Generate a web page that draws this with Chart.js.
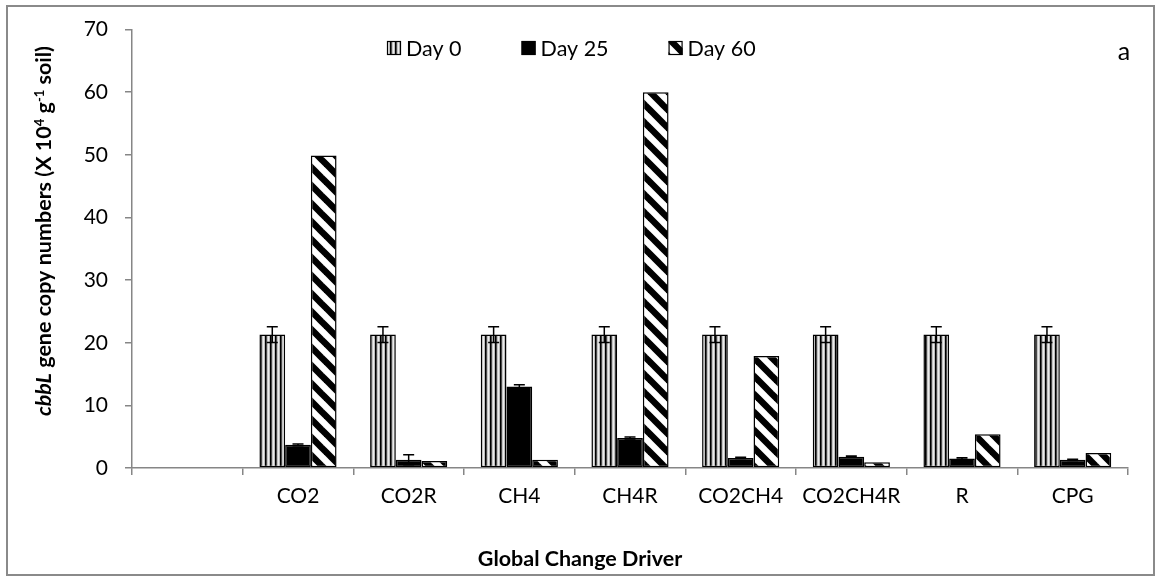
<!DOCTYPE html>
<html>
<head>
<meta charset="utf-8">
<script src="https://cdn.jsdelivr.net/npm/chart.js@4.4.1/dist/chart.umd.min.js"></script>
<style>
  html, body { margin: 0; padding: 0; background: #fff; }
  #wrap { width: 1161px; height: 581px; position: relative; }
</style>
</head>
<body>
<div id="wrap"><canvas id="c" width="1161" height="581"></canvas></div>
<script>
// Treatments (the first slot is left empty on purpose)
const categories = ['', 'CO2', 'CO2R', 'CH4', 'CH4R', 'CO2CH4', 'CO2CH4R', 'R', 'CPG'];
const seriesNames = ['Day 0', 'Day 25', 'Day 60'];

// cbbL copy numbers (x 10^4 per g soil)
const day0     = [null, 21.3, 21.3, 21.3, 21.3, 21.3, 21.3, 21.3, 21.3];
const day0Err  = [null, 1.25, 1.25, 1.25, 1.25, 1.25, 1.25, 1.25, 1.25];
const day25    = [null, 3.7, 1.3, 13.0, 4.8, 1.6, 1.8, 1.5, 1.3];
const day25Err = [null, 0.15, 0.8, 0.3, 0.15, 0.1, 0.1, 0.15, 0.1];
const day60    = [null, 49.9, 1.1, 1.3, 60.0, 17.9, 0.9, 5.4, 2.4];

const yTicks = [0, 10, 20, 30, 40, 50, 60, 70];

const FONT = 'Lato, "Open Sans", sans-serif';
const AXIS_GREY = '#868686';

// Fill patterns
function verticalStripes() {
  const c = document.createElement('canvas');
  c.width = 5; c.height = 5;
  const g = c.getContext('2d');
  const cols = ['#000000', '#4a4a4a', '#c4c4c4', '#ececec', '#bdbdbd'];
  cols.forEach((col, i) => { g.fillStyle = col; g.fillRect(i, 0, 1, 5); });
  return g.createPattern(c, 'repeat');
}
function wideDownwardDiagonal() {
  const s = 18;
  const c = document.createElement('canvas');
  c.width = s; c.height = s;
  const g = c.getContext('2d');
  g.fillStyle = '#fff';
  g.fillRect(0, 0, s, s);
  g.strokeStyle = '#000';
  g.lineWidth = 6.5;
  g.lineCap = 'square';
  for (const o of [-s, 0, s]) {
    g.beginPath();
    g.moveTo(o - 2, -2);
    g.lineTo(o + s + 2, s + 2);
    g.stroke();
  }
  return g.createPattern(c, 'repeat');
}

const fills = [verticalStripes(), '#000000', wideDownwardDiagonal()];
const errors = [day0Err, day25Err, null];

// Error bars on top of the bars
const errorBarPlugin = {
  id: 'errorBars',
  afterDatasetsDraw(chart) {
    const ctx = chart.ctx;
    const y = chart.scales.y;
    ctx.save();
    ctx.strokeStyle = '#000';
    ctx.lineWidth = 1.5;
    chart.data.datasets.forEach((ds, di) => {
      const err = errors[di];
      if (!err) return;
      const meta = chart.getDatasetMeta(di);
      meta.data.forEach((bar, i) => {
        const v = ds.data[i];
        const e = err[i];
        if (v == null || e == null) return;
        const x = bar.x;
        const yHi = y.getPixelForValue(v + e);
        const yLo = y.getPixelForValue(v - e);
        const cap = 5.5;
        ctx.beginPath();
        ctx.moveTo(x, yHi); ctx.lineTo(x, yLo);
        ctx.moveTo(x - cap, yHi); ctx.lineTo(x + cap, yHi);
        ctx.moveTo(x - cap, yLo); ctx.lineTo(x + cap, yLo);
        ctx.stroke();
      });
    });
    ctx.restore();
  }
};

// Frame, legend, axis titles and panel letter
const decorPlugin = {
  id: 'decor',
  afterDraw(chart) {
    const ctx = chart.ctx;
    ctx.save();

    // outer frame
    ctx.strokeStyle = '#8a8a8a';
    ctx.lineWidth = 2;
    ctx.strokeRect(7, 6, 1147, 569);

    // legend inside the plot area
    ctx.font = '21.5px ' + FONT;
    ctx.textBaseline = 'middle';
    ctx.fillStyle = '#000';
    let lx = 387;
    const ly = 41, box = 14;
    seriesNames.forEach((name, i) => {
      ctx.fillStyle = fills[i];
      ctx.fillRect(lx, ly, box, box);
      ctx.strokeStyle = '#000';
      ctx.lineWidth = 1.2;
      ctx.strokeRect(lx + 0.5, ly + 0.5, box - 1, box - 1);
      ctx.fillStyle = '#000';
      ctx.textAlign = 'left';
      ctx.fillText(name, lx + box + 5, ly + box / 2 + 1);
      lx += box + 5 + ctx.measureText(name).width + 60;
    });

    // panel letter
    ctx.font = '25px ' + FONT;
    ctx.textAlign = 'center';
    ctx.fillText('a', 1124, 52);

    // x axis title
    ctx.font = 'bold 21.5px ' + FONT;
    ctx.textAlign = 'center';
    ctx.fillText('Global Change Driver', 580, 559);

    // y axis title with italic gene name and superscripts
    const base = 21.5, sup = 13;
    const parts = [
      { t: 'cbbL', font: 'italic bold ' + base + 'px ' + FONT, dy: 0 },
      { t: ' gene copy numbers (X 10', font: 'bold ' + base + 'px ' + FONT, dy: 0 },
      { t: '4', font: 'bold ' + sup + 'px ' + FONT, dy: -7 },
      { t: ' g', font: 'bold ' + base + 'px ' + FONT, dy: 0 },
      { t: '-1', font: 'bold ' + sup + 'px ' + FONT, dy: -7 },
      { t: ' soil)', font: 'bold ' + base + 'px ' + FONT, dy: 0 }
    ];
    let total = 0;
    parts.forEach(p => { ctx.font = p.font; p.w = ctx.measureText(p.t).width; total += p.w; });
    ctx.translate(43, 231);
    ctx.rotate(-Math.PI / 2);
    ctx.textAlign = 'left';
    ctx.textBaseline = 'alphabetic';
    let px = -total / 2;
    parts.forEach(p => {
      ctx.font = p.font;
      ctx.fillText(p.t, px, 8 + p.dy);
      px += p.w;
    });
    ctx.restore();
  }
};

new Chart(document.getElementById('c'), {
  type: 'bar',
  data: {
    labels: categories,
    datasets: [
      { label: seriesNames[0], data: day0,  backgroundColor: fills[0], borderColor: '#000', borderWidth: 1.5 },
      { label: seriesNames[1], data: day25, backgroundColor: fills[1], borderColor: '#000', borderWidth: 1.5 },
      { label: seriesNames[2], data: day60, backgroundColor: fills[2], borderColor: '#000', borderWidth: 1.5 }
    ]
  },
  options: {
    responsive: false,
    animation: false,
    devicePixelRatio: 1,
    layout: { padding: { left: 0, right: 33, top: 22, bottom: 0 } },
    datasets: { bar: { categoryPercentage: 0.697, barPercentage: 1.0, borderSkipped: false } },
    plugins: {
      legend: { display: false },
      tooltip: { enabled: false },
      title: { display: false }
    },
    scales: {
      x: {
        offset: true,
        grid: { display: true, offset: true, drawOnChartArea: false, drawTicks: true, tickLength: 7, color: AXIS_GREY, lineWidth: 1.5 },
        border: { display: true, color: AXIS_GREY, width: 1.5 },
        ticks: { color: '#000', font: { family: FONT, size: 21 }, padding: 9, maxRotation: 0, autoSkip: false },
        afterFit(s) { s.height = 113; }
      },
      y: {
        min: 0,
        max: 70,
        afterBuildTicks(s) { s.ticks = yTicks.map(v => ({ value: v })); },
        grid: { display: true, drawOnChartArea: false, drawTicks: true, tickLength: 7, color: AXIS_GREY, lineWidth: 1.5 },
        border: { display: true, color: AXIS_GREY, width: 1.5 },
        ticks: { color: '#000', font: { family: FONT, size: 21 }, padding: 17 },
        afterFit(s) { s.width = 132; }
      }
    }
  },
  plugins: [errorBarPlugin, decorPlugin]
});
</script>
</body>
</html>
